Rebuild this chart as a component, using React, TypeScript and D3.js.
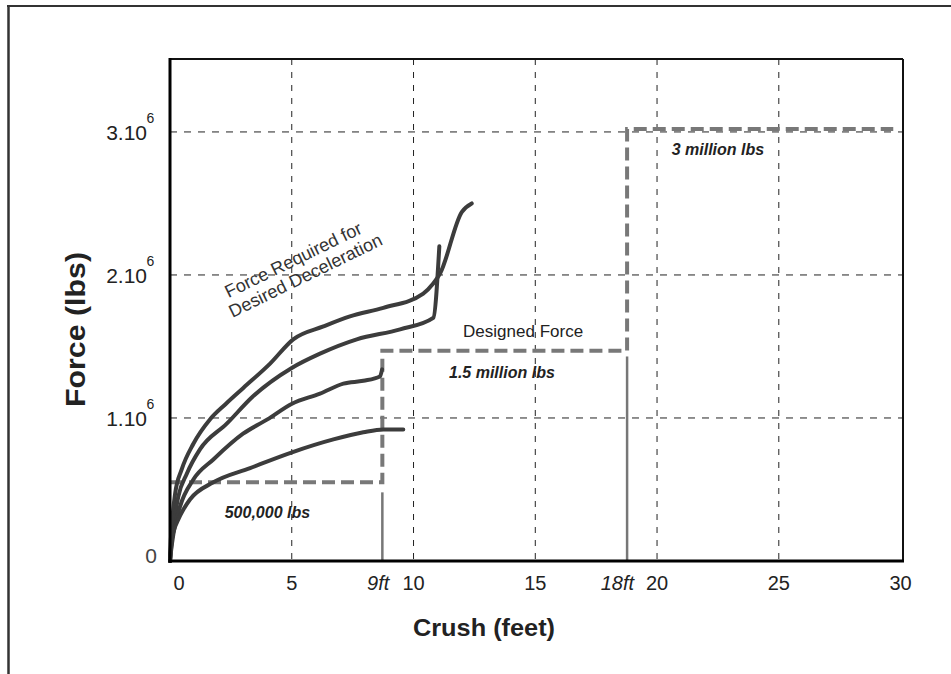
import React from 'react';
import * as d3 from 'd3';

// ---------- data ----------
// x: crush (feet), y: force (lbs)
const requiredCurve1: [number, number][] = [
  [0, 0], [0.02, 0.1e6], [0.07, 0.24e6], [0.21, 0.47e6], [0.48, 0.64e6], [0.96, 0.82e6],
  [1.64, 0.99e6], [2.3, 1.1e6], [3.01, 1.21e6], [4.11, 1.38e6], [5.06, 1.55e6], [6.3, 1.64e6],
  [7.39, 1.71e6], [8.76, 1.77e6], [10.4, 1.87e6], [10.81, 1.94e6], [11.09, 2.01e6],
  [11.98, 2.44e6], [12.39, 2.5e6],
];
const requiredCurve2: [number, number][] = [
  [0, 0], [0.05, 0.1e6], [0.14, 0.24e6], [0.34, 0.45e6], [0.69, 0.61e6], [1.23, 0.78e6],
  [2.33, 0.96e6], [3.4, 1.15e6], [5.0, 1.35e6], [6.16, 1.45e6], [7.67, 1.55e6],
  [9.45, 1.62e6], [10.81, 1.7e6], [11.06, 2.2e6],
];
const requiredCurve3: [number, number][] = [
  [0, 0], [0.05, 0.08e6], [0.14, 0.19e6], [0.41, 0.38e6], [0.96, 0.57e6], [1.78, 0.71e6],
  [3.0, 0.89e6], [4.0, 0.99e6], [5.01, 1.1e6], [6.16, 1.17e6], [7.12, 1.24e6],
  [7.94, 1.26e6], [8.62, 1.29e6], [8.71, 1.34e6],
];
const requiredCurve4: [number, number][] = [
  [0, 0], [0.07, 0.15e6], [0.34, 0.29e6], [0.55, 0.36e6], [0.82, 0.43e6], [1.78, 0.55e6],
  [3.29, 0.65e6], [5.01, 0.76e6], [6.71, 0.85e6], [7.94, 0.9e6], [8.76, 0.92e6], [9.58, 0.92e6],
];
const requiredCurves = [requiredCurve1, requiredCurve2, requiredCurve3, requiredCurve4];

const designedX = [0, 8.72, 8.72, 18.77, 18.77, 29.7];
const designedY = [0.55e6, 0.55e6, 1.47e6, 1.47e6, 3.02e6, 3.02e6];

const crushLimitX = [8.72, 18.77];
const crushLimitTop = [0.48e6, 1.43e6];
const crushLimitLabels = ['9ft', '18ft'];

const xTicks = [0, 5, 10, 15, 20, 25, 30];
const xTickLabels = ['0', '5', '10', '15', '20', '25', '30'];
const xGrid = [5, 10, 15, 20, 25];

const yTicks = [0, 1e6, 2e6, 3e6];
const yTickMain = ['0', '1.10', '2.10', '3.10'];
const yTickSup = ['', '6', '6', '6'];
const yGrid = [1e6, 2e6, 3e6];

const forceLabels = ['500,000 lbs', '1.5 million lbs', '3 million lbs'];
const forceLabelX = [4.0, 13.63, 22.5];
const forceLabelY = [0.3e6, 1.28e6, 2.84e6];

const designedLabel = 'Designed Force';
const designedLabelAt: [number, number] = [14.5, 1.568e6];
const requiredLabelLines = ['Force Required for', 'Desired Deceleration'];
const requiredLabelAt: [number, number] = [5.35, 2.006e6];

const xTitle = 'Crush (feet)';
const yTitle = 'Force (lbs)';

// ---------- layout ----------
const W = 951;
const H = 674;
const left = 170;
const right = 903;
const top = 59;
const bottom = 561;
const FONT = "'Liberation Sans', Arial, Helvetica, sans-serif";

export default function App() {
  const x = d3.scaleLinear().domain([0, 30.1]).range([left, right]);
  const y = d3.scaleLinear().domain([0, 3.51e6]).range([bottom, top]);

  const stepLine = d3
    .line<[number, number]>()
    .x((d) => x(d[0]))
    .y((d) => y(d[1]))
    .curve(d3.curveLinear);

  const curveLine = d3
    .line<[number, number]>()
    .x((d) => x(d[0]))
    .y((d) => y(d[1]))
    .curve(d3.curveMonotoneX);

  const designedPts: [number, number][] = designedX.map((v, i) => [v, designedY[i]]);

  return (
    <svg
      width={W}
      height={H}
      viewBox={`0 0 ${W} ${H}`}
      style={{ position: 'absolute', left: 0, top: 0, background: '#fff' }}
    >
      {/* page frame */}
      <line x1={7} x2={W} y1={6} y2={6} stroke="#333" strokeWidth={2} />
      <line x1={8.5} x2={8.5} y1={5} y2={H} stroke="#333" strokeWidth={2.5} />

      {/* grid */}
      {xGrid.map((g) => (
        <line
          key={'xg' + g}
          x1={x(g)}
          x2={x(g)}
          y1={top}
          y2={bottom}
          stroke="#222"
          strokeWidth={1}
          strokeDasharray="6,7"
        />
      ))}
      {yGrid.map((g) => (
        <line
          key={'yg' + g}
          x1={left}
          x2={right}
          y1={y(g)}
          y2={y(g)}
          stroke="#222"
          strokeWidth={1}
          strokeDasharray="7,7"
        />
      ))}

      {/* plot frame top / right */}
      <line x1={left} x2={right} y1={top} y2={top} stroke="#111" strokeWidth={2} />
      <line x1={right} x2={right} y1={top} y2={bottom} stroke="#111" strokeWidth={2} />

      {/* crush limit solid lines */}
      {crushLimitX.map((cx, i) => (
        <line
          key={'cl' + i}
          x1={x(cx)}
          x2={x(cx)}
          y1={y(crushLimitTop[i])}
          y2={y(0)}
          stroke="#777"
          strokeWidth={2.5}
        />
      ))}

      {/* designed force step */}
      <path
        d={stepLine(designedPts) || ''}
        fill="none"
        stroke="#787878"
        strokeWidth={4}
        strokeDasharray="13,6"
      />

      {/* required force curves */}
      {requiredCurves.map((c, i) => (
        <path
          key={'rc' + i}
          d={curveLine(c) || ''}
          fill="none"
          stroke="#3c3c3c"
          strokeWidth={4}
          strokeLinejoin="round"
          strokeLinecap="round"
        />
      ))}

      {/* axes */}
      <line x1={left} x2={left} y1={top - 1} y2={bottom + 1.5} stroke="#000" strokeWidth={3} />
      <line x1={left - 1.5} x2={right + 1} y1={bottom} y2={bottom} stroke="#000" strokeWidth={3} />

      {/* x tick labels */}
      {xTicks.map((t, i) => (
        <text
          key={'xt' + t}
          x={x(t) + (t === 0 ? 9 : 0)}
          y={590}
          textAnchor="middle"
          fontFamily={FONT}
          fontSize={20}
          fill="#222"
        >
          {xTickLabels[i]}
        </text>
      ))}
      {crushLimitX.map((cx, i) => (
        <text
          key={'clt' + i}
          x={x(cx) + 7}
          y={590}
          textAnchor="end"
          fontFamily={FONT}
          fontSize={20}
          fontStyle="italic"
          fill="#222"
        >
          {crushLimitLabels[i]}
        </text>
      ))}

      {/* y tick labels */}
      {yTicks.map((t, i) =>
        yTickSup[i] ? (
          <g key={'yt' + t}>
            <text
              x={147}
              y={y(t) + 8.5}
              textAnchor="end"
              fontFamily={FONT}
              fontSize={21}
              fill="#222"
            >
              {yTickMain[i]}
            </text>
            <text x={146.5} y={y(t) - 9} fontFamily={FONT} fontSize={14} fill="#222">
              {yTickSup[i]}
            </text>
          </g>
        ) : (
          <text
            key={'yt' + t}
            x={157}
            y={y(t) + 2}
            textAnchor="end"
            fontFamily={FONT}
            fontSize={21}
            fill="#444"
          >
            {yTickMain[i]}
          </text>
        )
      )}

      {/* axis titles */}
      <text
        x={484}
        y={636}
        textAnchor="middle"
        fontFamily={FONT}
        fontSize={24}
        fontWeight="bold"
        fill="#222"
        textLength={142}
        lengthAdjust="spacingAndGlyphs"
      >
        {xTitle}
      </text>
      <text
        transform="translate(85,329.5) rotate(-90)"
        textAnchor="middle"
        fontFamily={FONT}
        fontSize={27}
        fontWeight="bold"
        fill="#222"
        textLength={155}
        lengthAdjust="spacingAndGlyphs"
      >
        {yTitle}
      </text>

      {/* annotations */}
      {forceLabels.map((l, i) => (
        <text
          key={'fl' + i}
          x={x(forceLabelX[i])}
          y={y(forceLabelY[i])}
          textAnchor="middle"
          fontFamily={FONT}
          fontSize={16}
          fontWeight="bold"
          fontStyle="italic"
          fill="#222"
        >
          {l}
        </text>
      ))}
      <text
        x={x(designedLabelAt[0])}
        y={y(designedLabelAt[1])}
        textAnchor="middle"
        fontFamily={FONT}
        fontSize={17}
        fill="#222"
      >
        {designedLabel}
      </text>
      <g
        transform={`translate(${x(requiredLabelAt[0])},${y(requiredLabelAt[1])}) rotate(-26)`}
      >
        {requiredLabelLines.map((l, i) => (
          <text
            key={'rl' + i}
            x={i === 0 ? 0 : 4}
            y={i === 0 ? -9.7 : 9.7}
            textAnchor="middle"
            fontFamily={FONT}
            fontSize={18}
            fill="#333"
          >
            {l}
          </text>
        ))}
      </g>
    </svg>
  );
}
